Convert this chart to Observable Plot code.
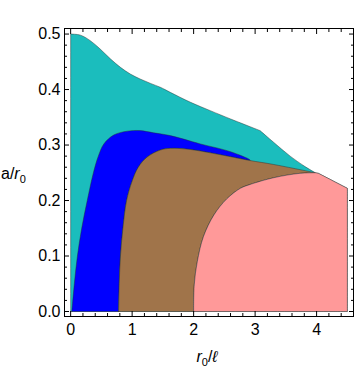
<!DOCTYPE html>
<html><head><meta charset="utf-8">
<script src="https://cdn.jsdelivr.net/npm/d3@7"></script>
<script src="https://cdn.jsdelivr.net/npm/@observablehq/plot@0.6"></script>
<style>body{margin:0;background:#fff}</style>
</head><body><div id="chart"></div>
<script>
// Region boundaries (x = r0/ℓ, y = a/r0)
const cyanTopX = [0, 0.16, 0.32, 0.48, 0.65, 0.81, 0.97, 1.13, 1.30, 1.46, 1.62, 1.95, 2.27, 2.60, 2.76, 2.92, 3.08, 3.30, 3.57, 3.80, 3.98];
const cyanTopY = [0.5, 0.498, 0.488, 0.473, 0.455, 0.44, 0.428, 0.419, 0.411, 0.404, 0.395, 0.377, 0.362, 0.347, 0.340, 0.333, 0.326, 0.305, 0.280, 0.262, 0.25];
const outerX = [3.98, 4.03, 4.50, 4.50];
const outerY = [0.25, 0.249, 0.222, 0];
const blueX = [0.02, 0.06, 0.11, 0.18, 0.27, 0.37, 0.45, 0.54, 0.70, 0.92, 1.13, 1.35, 1.62, 2.11, 2.60, 2.92];
const blueY = [0, 0.05, 0.10, 0.15, 0.20, 0.25, 0.28, 0.302, 0.318, 0.325, 0.326, 0.322, 0.317, 0.302, 0.288, 0.273];
const brownX = [0.78, 0.79, 0.81, 0.85, 0.91, 1.00, 1.10, 1.24, 1.46, 1.62, 1.95, 2.27, 2.60, 2.92, 3.30, 3.98];
const brownY = [0, 0.05, 0.10, 0.15, 0.20, 0.235, 0.26, 0.278, 0.291, 0.294, 0.292, 0.286, 0.279, 0.272, 0.265, 0.25];
const pinkX = [2.0, 2.01, 2.06, 2.16, 2.33, 2.54, 2.76, 2.92, 3.30, 3.73, 3.98];
const pinkY = [0, 0.048, 0.09, 0.135, 0.174, 0.203, 0.222, 0.229, 0.241, 0.249, 0.25];

const xMajor = [0, 1, 2, 3, 4];
const yMajor = [0, 0.1, 0.2, 0.3, 0.4, 0.5];
const xLabel = ["r", "0", "/", "ℓ"];
const yLabel = ["a/", "r", "0"];

const colors = {cyan: "#1bbdbd", blue: "#0000ff", brown: "#a0744a", pink: "#ff9999"};

const pts = (xs, ys) => xs.map((x, i) => ({x, y: ys[i]}));
const cyanTop = pts(cyanTopX, cyanTopY);
const outer = pts(outerX, outerY);
const blue = pts(blueX, blueY);
const brown = pts(brownX, brownY);
const pink = pts(pinkX, pinkY);

// join boundary pieces; the junction point is repeated so the smooth curve keeps a sharp corner there
const polygon = (...segs) => {
  const out = [];
  segs.forEach((s, i) => { if (i > 0) out.push(s[0]); out.push(...s); });
  return out;
};
const kink = cyanTopX.indexOf(3.08);
const origin = {x: 0, y: 0};
const cyanPoly = polygon(
  [origin, cyanTop[0]],
  cyanTop.slice(0, kink + 1),
  cyanTop.slice(kink),
  outer.slice(0, 2), outer.slice(1, 3), outer.slice(2, 4),
  [outer[3], origin]
);
const brownUnderBlue = brown.filter(p => p.x <= 2.92).reverse();
const bluePoly = polygon(blue, brownUnderBlue, [brown[0], blue[0]]);
const brownPoly = polygon(brown, pink.slice().reverse(), [pink[0], brown[0]]);
const pinkPoly = polygon(pink, outer.slice(0, 2), outer.slice(1, 3), outer.slice(2, 4), [outer[3], pink[0]]);

const xMinor = d3.range(0, 4.61, 0.2).filter(v => Math.abs(v - Math.round(v)) > 1e-6);
const yMinor = d3.range(0, 0.511, 0.02).filter(v => Math.abs(v * 10 - Math.round(v * 10)) > 1e-6);

const region = (data, fill) => Plot.line(data, {x: "x", y: "y", fill, stroke: "#2a2a2a", strokeOpacity: 0.55, strokeWidth: 0.8, curve: "catmull-rom"});

const chart = Plot.plot({
  width: 360, height: 368,
  marginLeft: 64, marginRight: 7, marginTop: 28, marginBottom: 52,
  style: {fontSize: "16px", fontFamily: "'Liberation Sans', Arial, sans-serif", color: "#000", background: "#fff"},
  x: {domain: [-0.1, 4.6]},
  y: {domain: [-0.009, 0.51]},
  marks: [
    region(cyanPoly, colors.cyan),
    region(bluePoly, colors.blue),
    region(brownPoly, colors.brown),
    region(pinkPoly, colors.pink),
    Plot.frame({stroke: "#000", strokeWidth: 1}),
    Plot.axisX({anchor: "bottom", ticks: xMajor, tickSize: -5, tickFormat: () => "", label: null}),
    Plot.axisX({anchor: "bottom", ticks: xMinor, tickSize: -3, tickFormat: () => "", label: null}),
    Plot.axisX({anchor: "top", ticks: xMajor, tickSize: -5, tickFormat: () => "", label: null}),
    Plot.axisX({anchor: "top", ticks: xMinor, tickSize: -3, tickFormat: () => "", label: null}),
    Plot.axisY({anchor: "left", ticks: yMajor, tickSize: -5, tickFormat: () => "", label: null}),
    Plot.axisY({anchor: "left", ticks: yMinor, tickSize: -3, tickFormat: () => "", label: null}),
    Plot.axisY({anchor: "right", ticks: yMajor, tickSize: -5, tickFormat: () => "", label: null}),
    Plot.axisY({anchor: "right", ticks: yMinor, tickSize: -3, tickFormat: () => "", label: null}),
    Plot.axisX({anchor: "bottom", ticks: xMajor, tickSize: 0, tickPadding: 7, tickFormat: d3.format("d"), label: null}),
    Plot.axisY({anchor: "left", ticks: yMajor, tickSize: 0, tickPadding: 4, tickFormat: d3.format(".1f"), label: null})
  ]
});

const svg = d3.select(chart);
const fam = "'Liberation Sans', Arial, sans-serif";
// y-axis title a/r0
const ty = svg.append("text").attr("x", 1).attr("y", 179).attr("text-anchor", "start").attr("font-size", 16).attr("font-family", fam).attr("fill", "#000");
ty.append("tspan").text(yLabel[0]);
ty.append("tspan").attr("font-style", "italic").text(yLabel[1]);
ty.append("tspan").attr("font-size", 11).attr("dy", 4).text(yLabel[2]);
// x-axis title r0/ℓ
const tx = svg.append("text").attr("x", 207).attr("y", 362).attr("text-anchor", "middle").attr("font-size", 16).attr("font-family", fam).attr("fill", "#000");
tx.append("tspan").attr("font-style", "italic").text(xLabel[0]);
tx.append("tspan").attr("font-size", 11).attr("dy", 4).text(xLabel[1]);
tx.append("tspan").attr("dy", -4).text(xLabel[2]);
tx.append("tspan").attr("font-style", "italic").text(xLabel[3]);

document.getElementById("chart").append(chart);
</script>
</body></html>
